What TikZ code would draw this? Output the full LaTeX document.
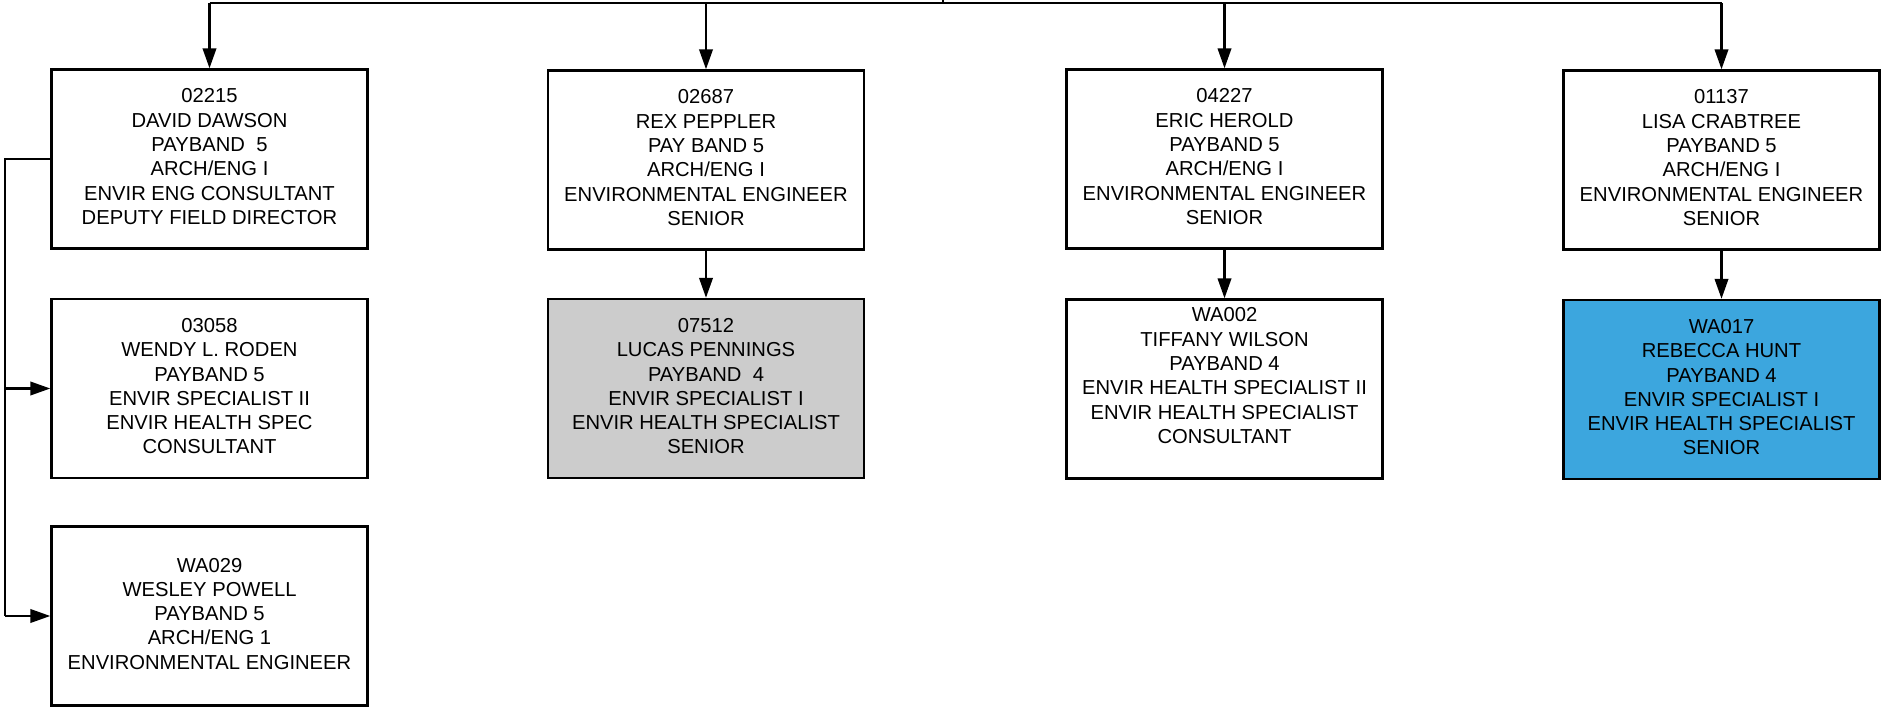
\documentclass[tikz,border=0pt]{standalone}
\usepackage{fontspec}
\setmainfont{Liberation Sans}
\usetikzlibrary{arrows.meta}
\definecolor{boxblue}{HTML}{3CA6DE}
\definecolor{boxgray}{HTML}{CCCCCC}
\newcommand{\liftfix}{\\[-19.5pt]\mbox{}}
\begin{document}
\begin{tikzpicture}[x=1pt,y=-1pt,
  person/.style={draw=black, line width=2.4pt, minimum width=316pt, minimum height=179pt,
    align=center, inner sep=0pt, font=\fontsize{20.2}{24.3}\selectfont},
  link/.style={line width=2.3pt, draw=black},
  arr/.style={link, -{Triangle[length=20pt,width=13.5pt]}}
]
\useasboundingbox (0,0) rectangle (1904,707);
% top row
\node[person] (dawson) at (209.5,159) {02215\\DAVID DAWSON\\PAYBAND~~5\\ARCH/ENG I\\ENVIR ENG CONSULTANT\\DEPUTY FIELD DIRECTOR\liftfix};
\node[person] (peppler) at (706,160) {02687\\REX PEPPLER\\PAY BAND 5\\ARCH/ENG I\\ENVIRONMENTAL ENGINEER\\SENIOR\liftfix};
\node[person] (herold) at (1224.5,159) {04227\\ERIC HEROLD\\PAYBAND 5\\ARCH/ENG I\\ENVIRONMENTAL ENGINEER\\SENIOR\liftfix};
\node[person] (crabtree) at (1721.5,160) {01137\\LISA CRABTREE\\PAYBAND 5\\ARCH/ENG I\\ENVIRONMENTAL ENGINEER\\SENIOR\liftfix};
% second row
\node[person] (roden) at (209.5,388.5) {03058\\WENDY L. RODEN\\PAYBAND 5\\ENVIR SPECIALIST II\\ENVIR HEALTH SPEC\\CONSULTANT\liftfix};
\node[person, fill=boxgray] (pennings) at (706,388.5) {07512\\LUCAS PENNINGS\\PAYBAND~~4\\ENVIR SPECIALIST I\\ENVIR HEALTH SPECIALIST\\SENIOR\liftfix};
\node[person] (wilson) at (1224.5,389) {WA002\\TIFFANY WILSON\\PAYBAND 4\\ENVIR HEALTH SPECIALIST II\\ENVIR HEALTH SPECIALIST\\CONSULTANT\\[2.5pt]\mbox{}};
\node[person, fill=boxblue] (hunt) at (1721.5,389.5) {WA017\\REBECCA HUNT\\PAYBAND 4\\ENVIR SPECIALIST I\\ENVIR HEALTH SPECIALIST\\SENIOR\liftfix};
% third row
\node[person] (powell) at (209.5,616) {WA029\\WESLEY POWELL\\PAYBAND 5\\ARCH/ENG 1\\ENVIRONMENTAL ENGINEER\liftfix};
% bus
\coordinate (root) at (943,-10);
\coordinate (busL) at (209.5,3);
\coordinate (busR) at (1721.5,3);
\coordinate (busM) at (943,3);
\coordinate (spine) at (5,159);
\draw[link] (root) -- (busM);
\draw[link] (busL) -- (busR);
\draw[arr] (busL) -- (dawson.north);
\draw[arr] (peppler.north |- busL) -- (peppler.north);
\draw[arr] (herold.north |- busL) -- (herold.north);
\draw[arr] (busR) -- (crabtree.north);
% spine
\draw[link] (dawson.west) -- (spine) -- (spine |- powell.west);
\draw[arr] (spine |- roden.west) -- (roden.west);
\draw[arr] (spine |- powell.west) -- (powell.west);
% vertical
\draw[arr] (peppler.south) -- (pennings.north);
\draw[arr] (herold.south) -- (wilson.north);
\draw[arr] (crabtree.south) -- (hunt.north);
\end{tikzpicture}
\end{document}
